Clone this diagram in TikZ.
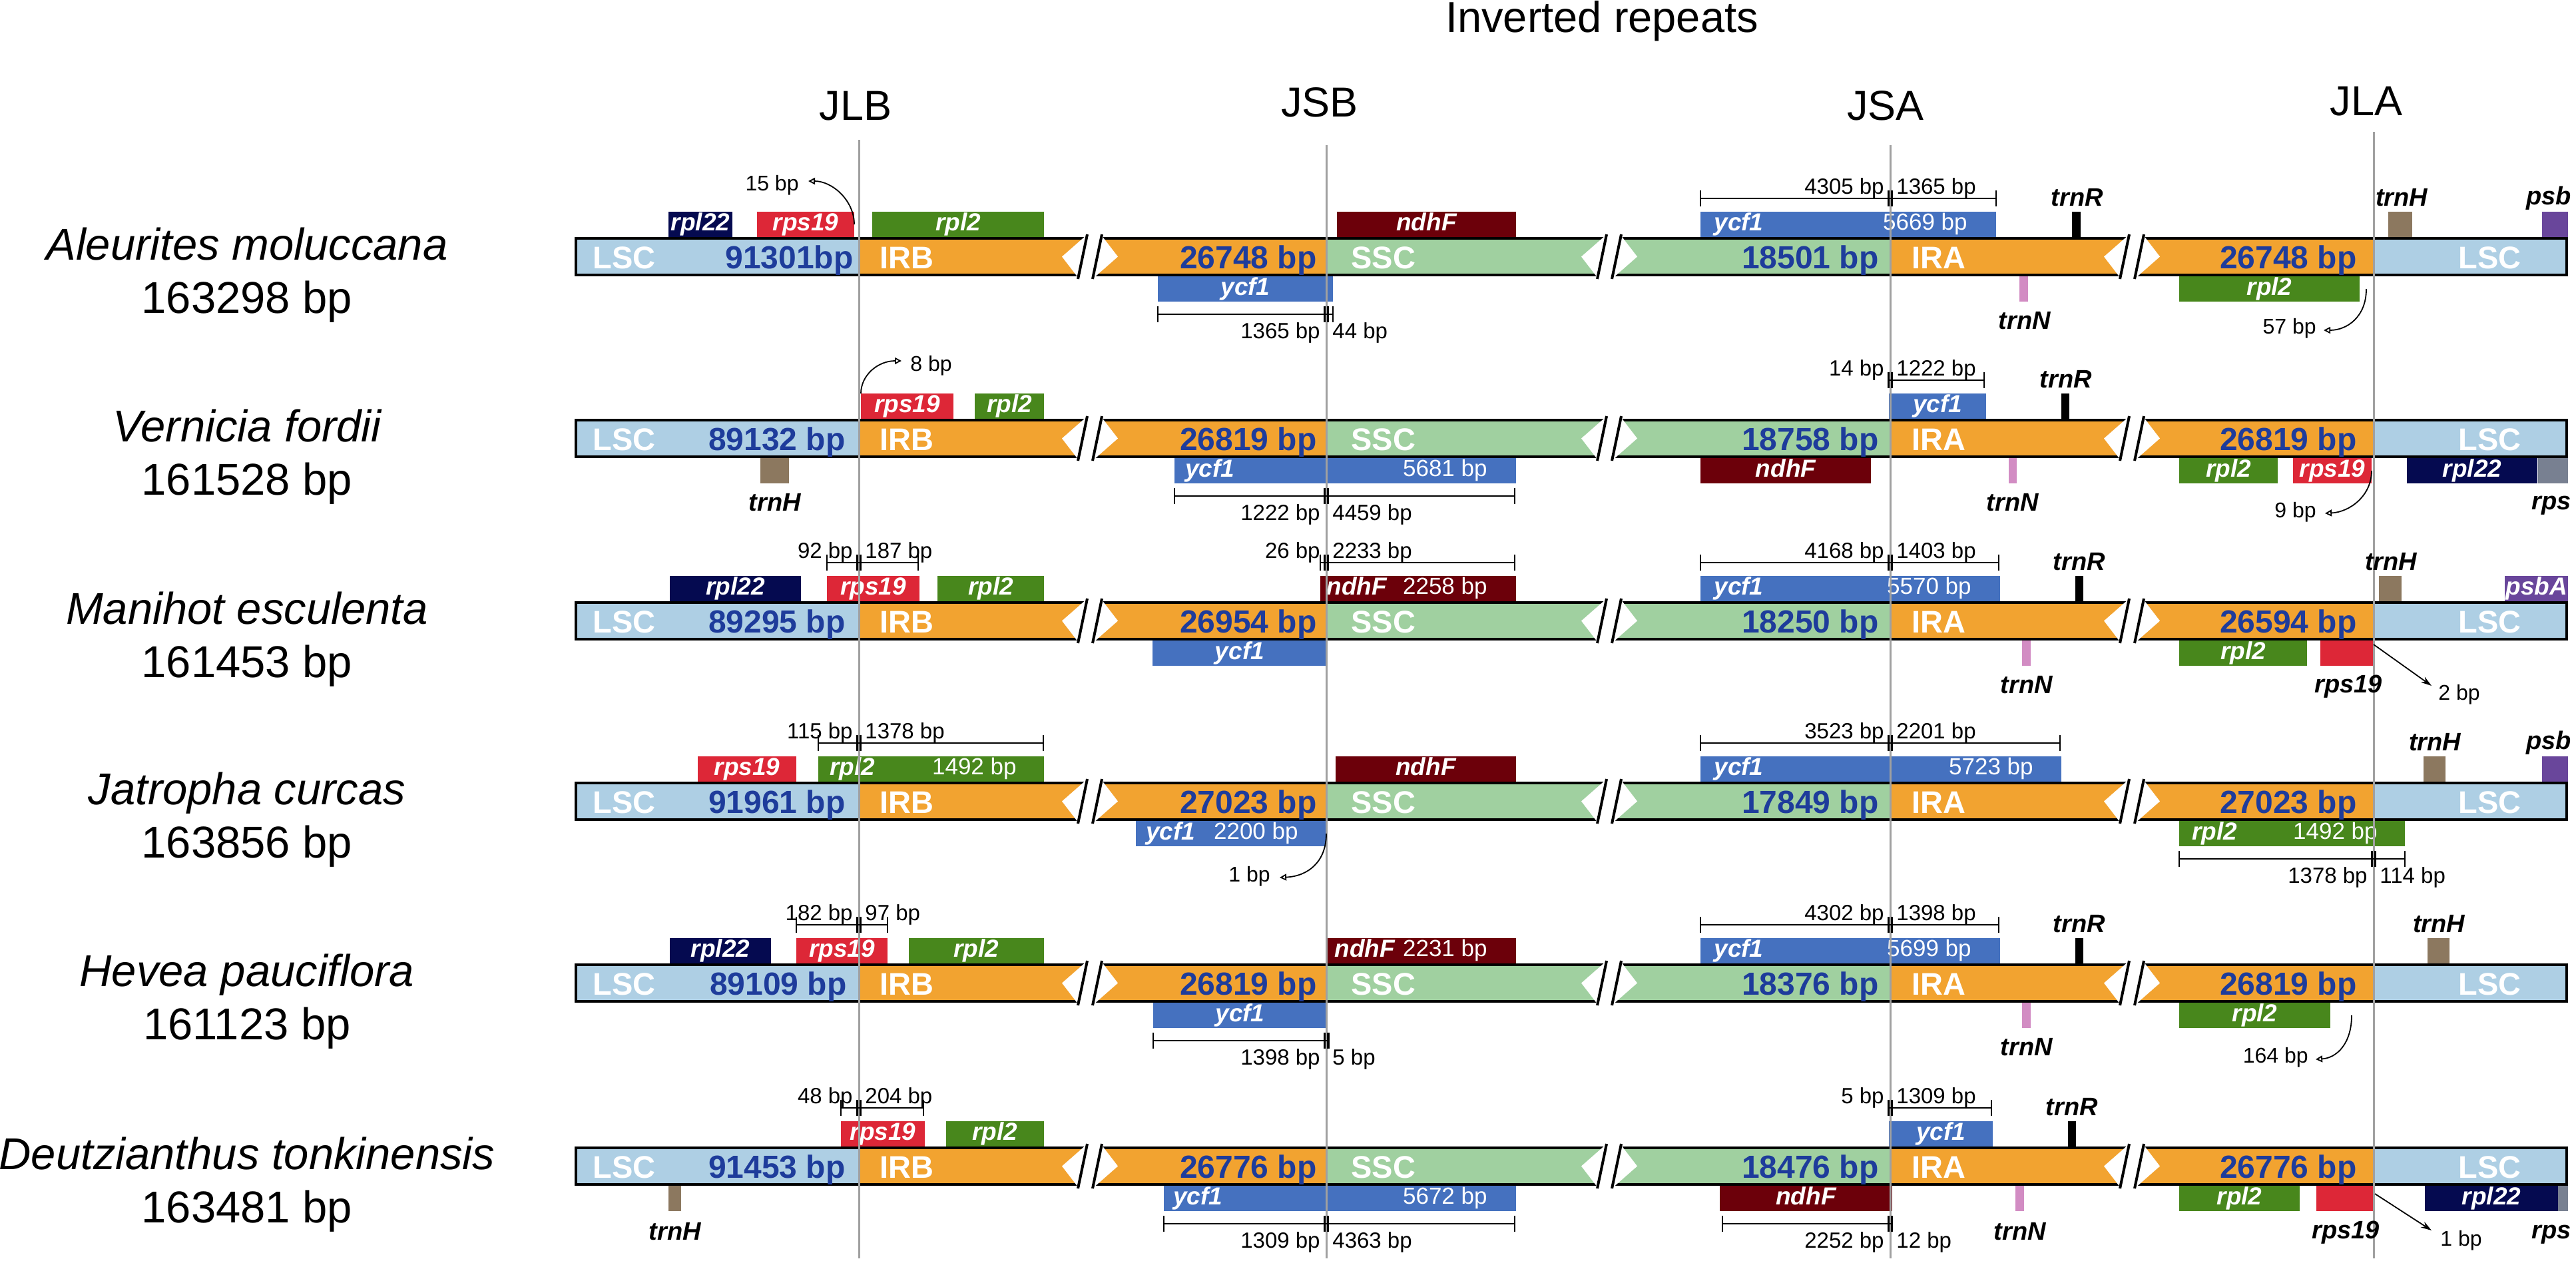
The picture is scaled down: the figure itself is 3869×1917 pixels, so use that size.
\documentclass[tikz,border=0pt]{standalone}
\usepackage{fontspec}
\setmainfont{Liberation Sans}
\usetikzlibrary{arrows.meta}
\definecolor{cLSC}{RGB}{174,207,228}
\definecolor{cIR}{RGB}{242,163,48}
\definecolor{cSSC}{RGB}{160,208,160}
\definecolor{cYCF}{RGB}{69,113,191}
\definecolor{cNDH}{RGB}{108,0,10}
\definecolor{cRPL2}{RGB}{72,135,28}
\definecolor{cRPS}{RGB}{221,39,55}
\definecolor{cRPL22}{RGB}{5,10,80}
\definecolor{cTRNH}{RGB}{140,120,95}
\definecolor{cPSB}{RGB}{105,70,155}
\definecolor{cTRNN}{RGB}{210,140,195}
\definecolor{cGRY}{RGB}{120,128,145}
\definecolor{cNUM}{RGB}{30,60,155}
\definecolor{cVL}{RGB}{160,160,160}
\newcommand\fsz[1]{\fontsize{#1}{#1}\selectfont}
% break mark
\newcommand\brkmark[2]{%
  \fill[white] (#1-42,#2+29.5) -- (#1-5,#2-3) -- (#1+17,#2-3) -- (#1+42,#2+29.5) -- (#1+5,#2+62) -- (#1-17,#2+62) -- cycle;
  \draw[brkslash] (#1-4,#2-4) -- (#1-18,#2+63);
  \draw[brkslash] (#1+18,#2-4) -- (#1+4,#2+63);
}
% chromosome row: prefix, T, LSC num, LSC num right edge, IRB num, SSC num, IRA num
\newcommand\chrow[7]{%
  \fill[cLSC] (863,#2) rectangle (1290,#2+59);
  \fill[cIR] (1290,#2) rectangle (1992,#2+59);
  \fill[cSSC] (1992,#2) rectangle (2839,#2+59);
  \fill[cIR] (2839,#2) rectangle (3565,#2+59);
  \fill[cLSC] (3565,#2) rectangle (3857,#2+59);
  \draw[barframe] (865,#2+2) rectangle (3855,#2+57);
  \brkmark{1637}{#2}\brkmark{2417}{#2}\brkmark{3202}{#2}
  \node[regname] (#1lscL) at (890,#2+47) {LSC};
  \node[bpnum] (#1lscN) at (#4,#2+47) {#3};
  \node[regname] (#1irb) at (1321,#2+47) {IRB};
  \node[bpnum] (#1irbN) at (1978,#2+47) {#5};
  \node[regname] (#1ssc) at (2029,#2+47) {SSC};
  \node[bpnum] (#1sscN) at (2822,#2+47) {#6};
  \node[regname] (#1ira) at (2871,#2+47) {IRA};
  \node[bpnum] (#1iraN) at (3540,#2+47) {#7};
  \node[regname] (#1lscR) at (3692,#2+47) {LSC};
}
% gene boxes above / below the bar
\newcommand\gbA[5]{\node[gbox,fill=#4,minimum width={(#3-#2)*0.5pt}] (#1) at ({(#2+#3)/2},\T-19) {#5};}
\newcommand\gbB[5]{\node[gbox,fill=#4,minimum width={(#3-#2)*0.5pt}] (#1) at ({(#2+#3)/2},\T+78) {#5};}
% dimension lines: name, x1, xj, x2, y, left label, right label
\newcommand\dimA[7]{%
  \draw[dimln] (#2,#5) -- (#4,#5)
     (#2,#5-12) -- (#2,#5+12)
     (#4,#5-12) -- (#4,#5+12)
     (#3-2.5,#5-12) -- (#3-2.5,#5+12)
     (#3+2.5,#5-12) -- (#3+2.5,#5+12);
  \node[dimlbl,anchor=base east] (#1L) at (#3-9,#5-7) {#6};
  \node[dimlbl,anchor=base west] (#1R) at (#3+9,#5-7) {#7};
}
\newcommand\dimB[7]{%
  \draw[dimln] (#2,#5) -- (#4,#5)
     (#2,#5-12) -- (#2,#5+12)
     (#4,#5-12) -- (#4,#5+12)
     (#3-2.5,#5-12) -- (#3-2.5,#5+12)
     (#3+2.5,#5-12) -- (#3+2.5,#5+12);
  \node[dimlbl,anchor=base east] (#1L) at (#3-9,#5+36) {#6};
  \node[dimlbl,anchor=base west] (#1R) at (#3+9,#5+36) {#7};
}
\begin{document}
\begin{tikzpicture}[x=0.5pt,y=-0.5pt,
  gbox/.style={inner sep=0pt,outer sep=0pt,minimum height=19pt,text=white,font=\fsz{18.5}\bfseries\itshape,text height=13.3pt,text depth=3.9pt},
  gtxt/.style={inner sep=0pt,text=white,font=\fsz{18.5}\bfseries\itshape,text height=13.3pt,text depth=3.9pt},
  bpin/.style={inner sep=0pt,text=white,font=\fsz{17.5},text height=12.6pt,text depth=3.7pt},
  glabel/.style={inner sep=0pt,font=\fsz{19}\bfseries\itshape,anchor=base},
  dimlbl/.style={inner sep=0pt,font=\fsz{16.5}},
  dimln/.style={line width=1.3pt},
  regname/.style={inner sep=0pt,font=\fsz{23.5}\bfseries,text=white,anchor=base west},
  bpnum/.style={inner sep=0pt,font=\fsz{24}\bfseries,text=cNUM,anchor=base east},
  species/.style={inner sep=0pt,font=\fsz{33.5}\itshape,anchor=base},
  splen/.style={inner sep=0pt,font=\fsz{33.5},anchor=base},
  junc/.style={inner sep=0pt,font=\fsz{31.5},anchor=base},
  vline/.style={line width=1.5pt,draw=cVL},
  barframe/.style={line width=2pt,draw=black},
  brkslash/.style={line width=2pt,draw=black},
  bpsmall/.style={inner sep=0pt,font=\fsz{16}},
  curvearrow/.style={line width=0.9pt,-{Triangle[open,length=5pt,width=5pt]}},
  straightarrow/.style={line width=0.9pt,-{Stealth[length=8pt,width=5pt]}}
]
\useasboundingbox (0,0) rectangle (3869,1917);
\fill[white] (0,0) rectangle (3869,1917);

% ---------- bars ----------
\chrow{r1}{356}{91301bp}{1282}{26748 bp}{18501 bp}{26748 bp}
\chrow{r2}{629}{89132 bp}{1270}{26819 bp}{18758 bp}{26819 bp}
\chrow{r3}{903}{89295 bp}{1270}{26954 bp}{18250 bp}{26594 bp}
\chrow{r4}{1174}{91961 bp}{1270}{27023 bp}{17849 bp}{27023 bp}
\chrow{r5}{1447}{89109 bp}{1272}{26819 bp}{18376 bp}{26819 bp}
\chrow{r6}{1722}{91453 bp}{1270}{26776 bp}{18476 bp}{26776 bp}

% ---------- gene boxes ----------
\def\T{356}
\gbA{r1rpl22}{1004}{1100}{cRPL22}{rpl22}
\gbA{r1rps19}{1137}{1283}{cRPS}{rps19}
\gbA{r1rpl2}{1310}{1568}{cRPL2}{rpl2}
\gbA{r1ndhF}{2008}{2277}{cNDH}{ndhF}
\gbA{r1ycf1}{2554}{2998}{cYCF}{}
\gbA{r1trnR}{3112}{3125}{black}{}
\gbA{r1trnH}{3587}{3623}{cTRNH}{}
\gbA{r1psb}{3818}{3857}{cPSB}{}
\gbB{r1ycf1b}{1739}{2002}{cYCF}{ycf1}
\gbB{r1trnN}{3033}{3046}{cTRNN}{}
\gbB{r1rpl2b}{3273}{3544}{cRPL2}{rpl2}
\node[gtxt,anchor=west] (r1ycf1t) at ([xshift=10pt]r1ycf1.west) {ycf1};
\node[bpin,anchor=east] (r1ycf1n) at ([xshift=-21.5pt]r1ycf1.east) {5669 bp};

\def\T{629}
\gbA{r2rps19}{1293}{1432}{cRPS}{rps19}
\gbA{r2rpl2}{1464}{1568}{cRPL2}{rpl2}
\gbA{r2ycf1}{2837}{2983}{cYCF}{ycf1}
\gbA{r2trnR}{3096}{3108}{black}{}
\gbB{r2trnH}{1142}{1185}{cTRNH}{}
\gbB{r2ycf1b}{1764}{2277}{cYCF}{}
\gbB{r2ndhF}{2554}{2810}{cNDH}{ndhF}
\gbB{r2trnN}{3017}{3029}{cTRNN}{}
\gbB{r2rpl2b}{3273}{3421}{cRPL2}{rpl2}
\gbB{r2rps19b}{3444}{3562}{cRPS}{rps19}
\gbB{r2rpl22b}{3615}{3811}{cRPL22}{rpl22}
\gbB{r2gray}{3812}{3857}{cGRY}{}
\node[gtxt,anchor=west] (r2ycf1t) at ([xshift=8pt]r2ycf1b.west) {ycf1};
\node[bpin,anchor=east] (r2ycf1n) at ([xshift=-21.5pt]r2ycf1b.east) {5681 bp};

\def\T{903}
\gbA{r3rpl22}{1006}{1203}{cRPL22}{rpl22}
\gbA{r3rps19}{1242}{1381}{cRPS}{rps19}
\gbA{r3rpl2}{1408}{1568}{cRPL2}{rpl2}
\gbA{r3ndhF}{1983}{2277}{cNDH}{}
\gbA{r3ycf1}{2554}{3004}{cYCF}{}
\gbA{r3trnR}{3117}{3129}{black}{}
\gbA{r3trnH}{3573}{3607}{cTRNH}{}
\gbA{r3psbA}{3762}{3857}{cPSB}{}
\gbB{r3ycf1b}{1731}{1993}{cYCF}{ycf1}
\gbB{r3trnN}{3037}{3050}{cTRNN}{}
\gbB{r3rpl2b}{3273}{3465}{cRPL2}{rpl2}
\gbB{r3rps19b}{3485}{3565}{cRPS}{}
\node[gtxt,anchor=west] (r3ndhFt) at ([xshift=4.5pt]r3ndhF.west) {ndhF};
\node[bpin,anchor=east] (r3ndhFn) at ([xshift=-21.5pt]r3ndhF.east) {2258 bp};
\node[gtxt,anchor=west] (r3ycf1t) at ([xshift=10pt]r3ycf1.west) {ycf1};
\node[bpin,anchor=east] (r3ycf1n) at ([xshift=-21.5pt]r3ycf1.east) {5570 bp};
\node[gtxt,anchor=west] (r3psbAt) at ([xshift=0.5pt]r3psbA.west) {psbA};

\def\T{1174}
\gbA{r4rps19}{1048}{1196}{cRPS}{rps19}
\gbA{r4rpl2}{1229}{1568}{cRPL2}{}
\gbA{r4ndhF}{2006}{2277}{cNDH}{ndhF}
\gbA{r4ycf1}{2554}{3096}{cYCF}{}
\gbA{r4trnH}{3640}{3673}{cTRNH}{}
\gbA{r4psb}{3818}{3857}{cPSB}{}
\gbB{r4ycf1b}{1706}{1992}{cYCF}{}
\gbB{r4rpl2b}{3273}{3612}{cRPL2}{}
\node[gtxt,anchor=west] (r4rpl2t) at ([xshift=8.5pt]r4rpl2.west) {rpl2};
\node[bpin,anchor=east] (r4rpl2n) at ([xshift=-20.5pt]r4rpl2.east) {1492 bp};
\node[gtxt,anchor=west] (r4ycf1t) at ([xshift=10pt]r4ycf1.west) {ycf1};
\node[bpin,anchor=east] (r4ycf1n) at ([xshift=-21pt]r4ycf1.east) {5723 bp};
\node[gtxt,anchor=west] (r4ycf1bt) at ([xshift=7.5pt]r4ycf1b.west) {ycf1};
\node[bpin,anchor=east] (r4ycf1bn) at ([xshift=-21pt]r4ycf1b.east) {2200 bp};
\node[gtxt,anchor=west] (r4rpl2bt) at ([xshift=9.5pt]r4rpl2b.west) {rpl2};
\node[bpin,anchor=east] (r4rpl2bn) at ([xshift=-20.5pt]r4rpl2b.east) {1492 bp};

\def\T{1447}
\gbA{r5rpl22}{1006}{1158}{cRPL22}{rpl22}
\gbA{r5rps19}{1196}{1333}{cRPS}{rps19}
\gbA{r5rpl2}{1365}{1568}{cRPL2}{rpl2}
\gbA{r5ndhF}{1993}{2277}{cNDH}{}
\gbA{r5ycf1}{2554}{3004}{cYCF}{}
\gbA{r5trnR}{3117}{3129}{black}{}
\gbA{r5trnH}{3646}{3679}{cTRNH}{}
\gbB{r5ycf1b}{1732}{1993}{cYCF}{ycf1}
\gbB{r5trnN}{3037}{3050}{cTRNN}{}
\gbB{r5rpl2b}{3273}{3500}{cRPL2}{rpl2}
\node[gtxt,anchor=west] (r5ndhFt) at ([xshift=5.5pt]r5ndhF.west) {ndhF};
\node[bpin,anchor=east] (r5ndhFn) at ([xshift=-21.5pt]r5ndhF.east) {2231 bp};
\node[gtxt,anchor=west] (r5ycf1t) at ([xshift=10pt]r5ycf1.west) {ycf1};
\node[bpin,anchor=east] (r5ycf1n) at ([xshift=-21.5pt]r5ycf1.east) {5699 bp};

\def\T{1722}
\gbA{r6rps19}{1263}{1389}{cRPS}{rps19}
\gbA{r6rpl2}{1421}{1568}{cRPL2}{rpl2}
\gbA{r6ycf1}{2837}{2993}{cYCF}{ycf1}
\gbA{r6trnR}{3106}{3118}{black}{}
\gbB{r6trnH}{1004}{1023}{cTRNH}{}
\gbB{r6ycf1b}{1748}{2277}{cYCF}{}
\gbB{r6ndhF}{2583}{2842}{cNDH}{ndhF}
\gbB{r6trnN}{3027}{3040}{cTRNN}{}
\gbB{r6rpl2b}{3273}{3454}{cRPL2}{rpl2}
\gbB{r6rps19b}{3479}{3567}{cRPS}{}
\gbB{r6rpl22b}{3642}{3842}{cRPL22}{rpl22}
\gbB{r6gray}{3842}{3857}{cGRY}{}
\node[gtxt,anchor=west] (r6ycf1t) at ([xshift=7pt]r6ycf1b.west) {ycf1};
\node[bpin,anchor=east] (r6ycf1n) at ([xshift=-21.5pt]r6ycf1b.east) {5672 bp};

% ---------- junction lines and titles ----------
\coordinate (JLBt) at (1290,210); \coordinate (JLBb) at (1290,1890);
\coordinate (JSBt) at (1992,218); \coordinate (JSBb) at (1992,1890);
\coordinate (JSAt) at (2839,218); \coordinate (JSAb) at (2839,1890);
\coordinate (JLAt) at (3565,198); \coordinate (JLAb) at (3565,1890);
\draw[vline] (JLBt) -- (JLBb);
\draw[vline] (JSBt) -- (JSBb);
\draw[vline] (JSAt) -- (JSAb);
\draw[vline] (JLAt) -- (JLAb);
\node[junc] (JLB) at (1285,180) {JLB};
\node[junc] (JSB) at (1982,175) {JSB};
\node[junc] (JSA) at (2832,180) {JSA};
\node[junc] (JLA) at (3554,173) {JLA};
\node[junc,font=\fsz{32.5}] (title) at (2406,48) {Inverted repeats};

% ---------- row 1 annotations ----------
\def\T{356}
\node[species] (r1sp) at (371,\T+34) {Aleurites moluccana};
\node[splen] (r1len) at (371,\T+114) {163298 bp};
\node[glabel] (r1trnRl) at (3120,\T-47) {trnR};
\node[glabel] (r1trnHl) at (3607,\T-47) {trnH};
\node[glabel,anchor=base east] (r1psbl) at (3862,\T-49) {psb};
\node[glabel] (r1trnNl) at (3041,\T+138) {trnN};
\dimA{r1d1}{2554}{2839}{2998}{\T-58}{4305 bp}{1365 bp}
\dimB{r1d2}{1739}{1992}{2002}{\T+116}{1365 bp}{44 bp}
\node[bpsmall,anchor=base east] (r1a15) at (1200,\T-70) {15 bp};
\coordinate (r1a15tip) at (1214,\T-84);
\draw[curvearrow] (r1rps19.east) .. controls (1283,\T-55) and (1250,\T-84) .. (r1a15tip);
\node[bpsmall,anchor=base east] (r1a57) at (3479,\T+145) {57 bp};
\coordinate (r1a57tip) at (3490,\T+140);
\draw[curvearrow] ([xshift=5pt]r1rpl2b.east) .. controls (3554,\T+120) and (3525,\T+140) .. (r1a57tip);

% ---------- row 2 annotations ----------
\def\T{629}
\node[species] (r2sp) at (371,\T+34) {Vernicia fordii};
\node[splen] (r2len) at (371,\T+114) {161528 bp};
\node[glabel] (r2trnRl) at (3103,\T-47) {trnR};
\node[glabel] (r2trnHl) at (1164,\T+138) {trnH};
\node[glabel] (r2trnNl) at (3023,\T+138) {trnN};
\node[glabel,anchor=base east] (r2rpsl) at (3862,\T+136) {rps};
\dimA{r2d1}{2837}{2839}{2980}{\T-58}{14 bp}{1222 bp}
\dimB{r2d2}{1764}{1992}{2275}{\T+116}{1222 bp}{4459 bp}
\node[bpsmall,anchor=base west] (r2a8) at (1367,\T-72) {8 bp};
\coordinate (r2a8tip) at (1354,\T-87);
\draw[curvearrow] (r2rps19.north west) .. controls (1293,\T-65) and (1318,\T-87) .. (r2a8tip);
\node[bpsmall,anchor=base east] (r2a9) at (3479,\T+148) {9 bp};
\coordinate (r2a9tip) at (3492,\T+142);
\draw[curvearrow] (r2rps19b.east) .. controls (3562,\T+115) and (3530,\T+140) .. (r2a9tip);

% ---------- row 3 annotations ----------
\def\T{903}
\node[species] (r3sp) at (371,\T+34) {Manihot esculenta};
\node[splen] (r3len) at (371,\T+114) {161453 bp};
\node[glabel] (r3trnRl) at (3123,\T-47) {trnR};
\node[glabel] (r3trnHl) at (3591,\T-47) {trnH};
\node[glabel] (r3trnNl) at (3044,\T+138) {trnN};
\node[glabel] (r3rps19l) at (3527,\T+137) {rps19};
\dimA{r3d1}{1242}{1290}{1379}{\T-58}{92 bp}{187 bp}
\dimA{r3d2}{1983}{1992}{2275}{\T-58}{26 bp}{2233 bp}
\dimA{r3d3}{2554}{2839}{3002}{\T-58}{4168 bp}{1403 bp}
\node[bpsmall,anchor=base west] (r3a2) at (3662,\T+148) {2 bp};
\coordinate (r3a2tip) at (3652,\T+127);
\draw[straightarrow] ([yshift=-3pt]r3rps19b.north east) -- (r3a2tip);

% ---------- row 4 annotations ----------
\def\T{1174}
\node[species] (r4sp) at (371,\T+34) {Jatropha curcas};
\node[splen] (r4len) at (371,\T+114) {163856 bp};
\node[glabel] (r4trnHl) at (3657,\T-47) {trnH};
\node[glabel,anchor=base east] (r4psbl) at (3862,\T-49) {psb};
\dimA{r4d1}{1229}{1290}{1567}{\T-58}{115 bp}{1378 bp}
\dimA{r4d2}{2554}{2839}{3094}{\T-58}{3523 bp}{2201 bp}
\dimB{r4d3}{3273}{3565}{3612}{\T+116}{1378 bp}{114 bp}
\node[bpsmall,anchor=base east] (r4a1) at (1908,\T+150) {1 bp};
\coordinate (r4a1tip) at (1922,\T+144);
\draw[curvearrow] (r4ycf1b.east) .. controls (1992,\T+120) and (1965,\T+142) .. (r4a1tip);

% ---------- row 5 annotations ----------
\def\T{1447}
\node[species] (r5sp) at (371,\T+34) {Hevea pauciflora};
\node[splen] (r5len) at (371,\T+114) {161123 bp};
\node[glabel] (r5trnRl) at (3123,\T-47) {trnR};
\node[glabel] (r5trnHl) at (3663,\T-47) {trnH};
\node[glabel] (r5trnNl) at (3044,\T+138) {trnN};
\dimA{r5d1}{1196}{1290}{1333}{\T-58}{182 bp}{97 bp}
\dimA{r5d2}{2554}{2839}{3002}{\T-58}{4302 bp}{1398 bp}
\dimB{r5d3}{1732}{1992}{1996}{\T+116}{1398 bp}{5 bp}
\node[bpsmall,anchor=base east] (r5a164) at (3467,\T+149) {164 bp};
\coordinate (r5a164tip) at (3478,\T+144);
\draw[curvearrow] ([xshift=16pt]r5rpl2b.east) .. controls (3532,\T+120) and (3510,\T+142) .. (r5a164tip);

% ---------- row 6 annotations ----------
\def\T{1722}
\node[species] (r6sp) at (371,\T+34) {Deutzianthus tonkinensis};
\node[splen] (r6len) at (371,\T+114) {163481 bp};
\node[glabel] (r6trnRl) at (3112,\T-47) {trnR};
\node[glabel] (r6trnHl) at (1014,\T+140) {trnH};
\node[glabel] (r6trnNl) at (3034,\T+140) {trnN};
\node[glabel] (r6rps19l) at (3523,\T+138) {rps19};
\node[glabel,anchor=base east] (r6rpsl) at (3862,\T+138) {rps};
\dimA{r6d1}{1263}{1290}{1387}{\T-58}{48 bp}{204 bp}
\dimA{r6d2}{2837}{2839}{2991}{\T-58}{5 bp}{1309 bp}
\dimB{r6d3}{1748}{1992}{2275}{\T+116}{1309 bp}{4363 bp}
\dimB{r6d4}{2587}{2839}{2842}{\T+116}{2252 bp}{12 bp}
\node[bpsmall,anchor=base west] (r6a1) at (3665,\T+149) {1 bp};
\coordinate (r6a1tip) at (3652,\T+126);
\draw[straightarrow] ([yshift=-6pt]r6rps19b.north east) -- (r6a1tip);
\end{tikzpicture}
\end{document}
